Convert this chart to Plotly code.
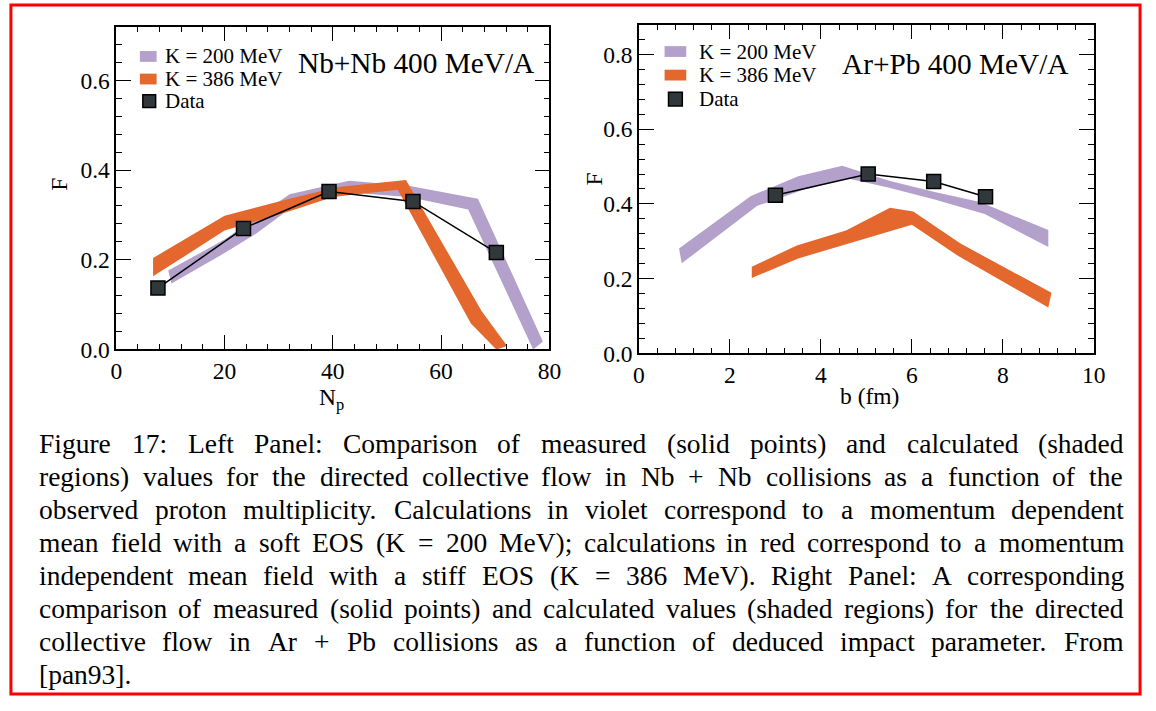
import plotly.graph_objects as go

W, H = 1156, 711

# ---------------- data: left panel (Nb+Nb) ----------------
np_data = [7.7, 23.5, 39.3, 54.8, 70.2]
f_np_data = [0.137, 0.270, 0.352, 0.330, 0.216]

k200_np_up_x = [9.6, 20, 32, 43, 54, 66.8, 78.8]
k200_np_up_y = [0.176, 0.245, 0.346, 0.376, 0.365, 0.336, 0.018]
k200_np_lo_x = [10.2, 20, 25.8, 32, 43, 54, 65.0, 77.0]
k200_np_lo_y = [0.147, 0.215, 0.258, 0.313, 0.350, 0.340, 0.312, 0.0]

k386_np_up_x = [6.8, 20, 32, 41, 53.5, 67.5, 72.2]
k386_np_up_y = [0.204, 0.298, 0.336, 0.362, 0.378, 0.085, 0.008]
k386_np_lo_x = [6.8, 20, 32, 40, 52, 65.5, 70.2]
k386_np_lo_y = [0.163, 0.265, 0.308, 0.340, 0.356, 0.058, 0.0]

# ---------------- data: right panel (Ar+Pb) ----------------
b_data = [3.0, 5.04, 6.48, 7.62]
f_b_data = [0.423, 0.480, 0.460, 0.419]

k200_b_up_x = [0.88, 2.46, 3.5, 4.47, 5.5, 6.5, 7.5, 9.0]
k200_b_up_y = [0.281, 0.421, 0.474, 0.502, 0.462, 0.432, 0.405, 0.330]
k200_b_lo_x = [0.94, 2.6, 3.6, 4.6, 5.5, 6.5, 7.6, 9.0]
k200_b_lo_y = [0.241, 0.395, 0.437, 0.468, 0.443, 0.412, 0.373, 0.285]

k386_b_up_x = [2.48, 3.47, 4.55, 5.52, 6.03, 7.07, 9.07]
k386_b_up_y = [0.232, 0.289, 0.329, 0.390, 0.380, 0.294, 0.162]
k386_b_lo_x = [2.48, 3.5, 4.5, 6.0, 7.04, 9.0]
k386_b_lo_y = [0.202, 0.254, 0.290, 0.344, 0.259, 0.123]

series_names = ["K = 200 MeV", "K = 386 MeV", "Data"]
panel_titles = ["Nb+Nb 400 MeV/A", "Ar+Pb 400 MeV/A"]

caption_lines = [
    "Figure 17: Left Panel: Comparison of measured (solid points) and calculated (shaded",
    "regions) values for the directed collective flow in Nb + Nb collisions as a function of the",
    "observed proton multiplicity. Calculations in violet correspond to a momentum dependent",
    "mean field with a soft EOS (K = 200 MeV); calculations in red correspond to a momentum",
    "independent mean field with a stiff EOS (K = 386 MeV). Right Panel: A corresponding",
    "comparison of measured (solid points) and calculated values (shaded regions) for the directed",
    "collective flow in Ar + Pb collisions as a function of deduced impact parameter. From",
    "[pan93].",
]

VIOLET = "#b3a0cb"
ORANGE = "#e4672e"
SQUARE = "#30383c"
FONT = "Liberation Serif"


def band(up_x, up_y, lo_x, lo_y):
    return list(up_x) + list(lo_x)[::-1] + [up_x[0]], list(up_y) + list(lo_y)[::-1] + [up_y[0]]


fig = go.Figure()

panels = [
    dict(xa="x", ya="y",
         k200=(k200_np_up_x, k200_np_up_y, k200_np_lo_x, k200_np_lo_y),
         k386=(k386_np_up_x, k386_np_up_y, k386_np_lo_x, k386_np_lo_y),
         dx=np_data, dy=f_np_data),
    dict(xa="x2", ya="y2",
         k200=(k200_b_up_x, k200_b_up_y, k200_b_lo_x, k200_b_lo_y),
         k386=(k386_b_up_x, k386_b_up_y, k386_b_lo_x, k386_b_lo_y),
         dx=b_data, dy=f_b_data),
]

for p in panels:
    for key, col, name in (("k200", VIOLET, series_names[0]), ("k386", ORANGE, series_names[1])):
        bx, by = band(*p[key])
        fig.add_trace(go.Scatter(x=bx, y=by, mode="lines", fill="toself", fillcolor=col,
                                 line=dict(width=0, color=col), name=name, showlegend=False,
                                 xaxis=p["xa"], yaxis=p["ya"], hoverinfo="skip"))
    fig.add_trace(go.Scatter(x=p["dx"], y=p["dy"], mode="lines+markers", name=series_names[2],
                             line=dict(color="black", width=1.5),
                             marker=dict(symbol="square", size=14, color=SQUARE,
                                         line=dict(color="black", width=1.5)),
                             showlegend=False, xaxis=p["xa"], yaxis=p["ya"]))


def px(x):
    return x / W


def py(y):
    return 1 - y / H


axis_common = dict(showline=True, linecolor="black", linewidth=1.5, mirror="ticks",
                   ticks="inside", ticklen=15, tickwidth=1.2, tickcolor="black",
                   showgrid=False, zeroline=False,
                   tickfont=dict(family=FONT, size=23.5, color="black"))
minor_common = dict(ticklen=6, ticks="inside", tickcolor="black", tickwidth=1.2)

fig.update_layout(
    width=W, height=H,
    margin=dict(l=0, r=0, t=0, b=0),
    paper_bgcolor="white", plot_bgcolor="white",
    showlegend=False,
    xaxis=dict(domain=[px(112), px(552)], range=[0, 80], dtick=20, anchor="y",
               minor=dict(dtick=4, **minor_common), **axis_common),
    yaxis=dict(domain=[py(356), py(27)], range=[0, 0.72], dtick=0.2, tickformat=".1f", anchor="x",
               minor=dict(dtick=0.04, **minor_common), **axis_common),
    xaxis2=dict(domain=[px(643), px(1105)], range=[0, 10], dtick=2, anchor="y2",
                minor=dict(dtick=0.4, **minor_common), **axis_common),
    yaxis2=dict(domain=[py(360), py(25)], range=[0, 0.88], dtick=0.2, tickformat=".1f", anchor="x2",
                minor=dict(dtick=0.04, **minor_common), **axis_common),
)

annotations = []
shapes = []

# panel titles
for txt, x, y in ((panel_titles[0], 416, 64), (panel_titles[1], 964, 65)):
    annotations.append(dict(text=txt, x=px(x), y=py(y), xref="paper", yref="paper",
                            showarrow=False, xanchor="center", yanchor="middle",
                            font=dict(family=FONT, size=29.3, color="black")))

# axis titles
for txt, x, y, ang in (("F", 53, 188, -90), ("F", 597, 182, -90),
                       ("N<sub>p</sub>", 331, 406, 0), ("b (fm)", 877, 403, 0)):
    annotations.append(dict(text=txt, x=px(x), y=py(y), xref="paper", yref="paper",
                            showarrow=False, xanchor="center", yanchor="middle", textangle=ang,
                            font=dict(family=FONT, size=23.5, color="black")))

# legends (one per panel), drawn as key swatches + text
legend_specs = [
    # (patch x0, x1, square x0, x1, text x, row centres)
    (136, 153, 139, 152, 160, (57.5, 80.5, 103)),
    (669, 691, 673, 687, 703, (52.5, 76.5, 101)),
]
for (p0, p1, s0, s1, tx, rows) in legend_specs:
    for col, rc in ((VIOLET, rows[0]), (ORANGE, rows[1])):
        shapes.append(dict(type="rect", xref="paper", yref="paper", x0=px(p0), x1=px(p1),
                           y0=py(rc + 5.5), y1=py(rc - 5.5), fillcolor=col, line=dict(width=0)))
    rc = rows[2]
    half = (s1 - s0) / 2
    shapes.append(dict(type="rect", xref="paper", yref="paper", x0=px(s0), x1=px(s1),
                       y0=py(rc + half), y1=py(rc - half), fillcolor=SQUARE,
                       line=dict(color="black", width=1.5)))
    for name, rc in zip(series_names, rows):
        annotations.append(dict(text=name, x=px(tx), y=py(rc), xref="paper", yref="paper",
                                showarrow=False, xanchor="left", yanchor="middle", borderpad=0,
                                font=dict(family=FONT, size=21, color="black")))

# caption, justified using Times/Liberation Serif advance widths
TNR = {' ': 250, '!': 333, '(': 333, ')': 333, '+': 564, ',': 250, '-': 333, '.': 250, '/': 278,
       ':': 278, ';': 278, '=': 564, '[': 333, ']': 333,
       'A': 722, 'B': 667, 'C': 667, 'D': 722, 'E': 611, 'F': 556, 'G': 722, 'H': 722, 'I': 333,
       'J': 389, 'K': 722, 'L': 611, 'M': 889, 'N': 722, 'O': 722, 'P': 556, 'Q': 722, 'R': 667,
       'S': 556, 'T': 611, 'U': 722, 'V': 722, 'W': 944, 'X': 722, 'Y': 722, 'Z': 611,
       'a': 444, 'b': 500, 'c': 444, 'd': 500, 'e': 444, 'f': 333, 'g': 500, 'h': 500, 'i': 278,
       'j': 278, 'k': 500, 'l': 278, 'm': 778, 'n': 500, 'o': 500, 'p': 500, 'q': 500, 'r': 333,
       's': 389, 't': 278, 'u': 500, 'v': 500, 'w': 722, 'x': 500, 'y': 500, 'z': 444}
CAP_FS = 27.5
LEFT, RIGHT = 33, 1133
LINE_Y0, LINE_DY = 452, 33.6


def tw(s):
    return sum(TNR.get(c, 500) for c in s) * CAP_FS / 1000.0


for i, line in enumerate(caption_lines):
    yy = LINE_Y0 + i * LINE_DY
    words = line.split(" ")
    widths = [tw(w) for w in words]
    if i < len(caption_lines) - 1 and len(words) > 1:
        gap = (RIGHT - LEFT - sum(widths)) / (len(words) - 1)
    else:
        gap = tw(" ")
    xx = LEFT
    for w, wd in zip(words, widths):
        annotations.append(dict(text=w, x=px(xx), y=py(yy), xref="paper", yref="paper",
                                showarrow=False, xanchor="left", yanchor="middle", borderpad=0,
                                font=dict(family=FONT, size=CAP_FS, color="black")))
        xx += wd + gap

shapes.append(dict(type="rect", xref="paper", yref="paper", x0=px(5), x1=px(1152), y0=py(707),
                   y1=py(5), line=dict(color="red", width=3), fillcolor="rgba(0,0,0,0)",
                   layer="above"))

fig.update_layout(annotations=annotations, shapes=shapes)

fig.write_html("out.html")
